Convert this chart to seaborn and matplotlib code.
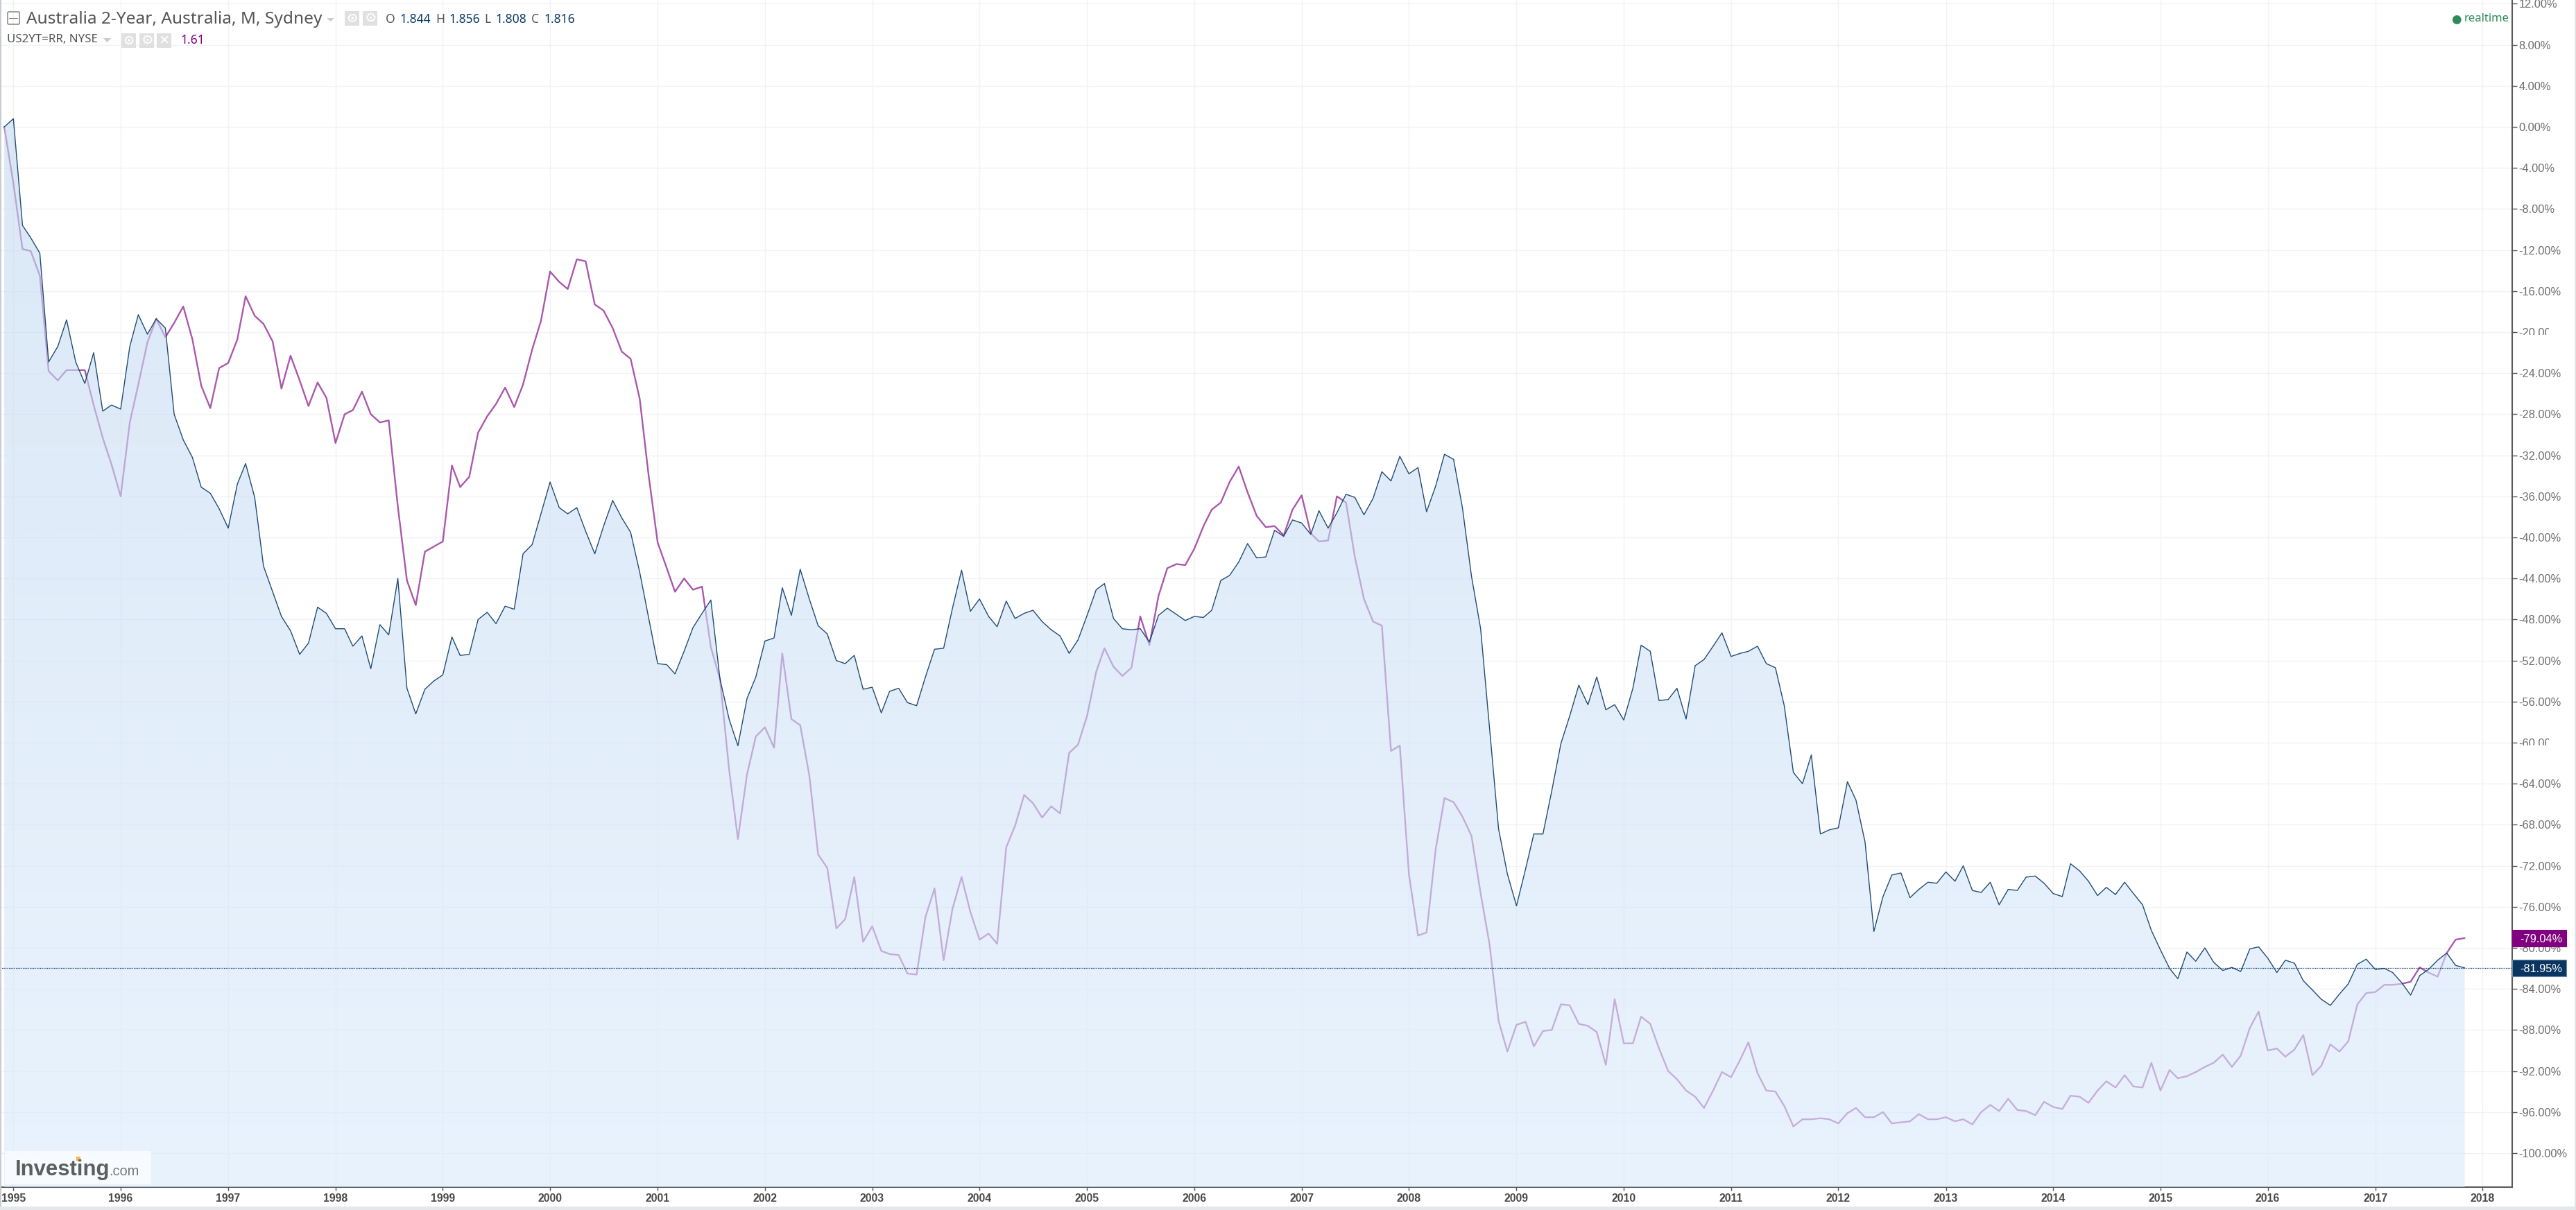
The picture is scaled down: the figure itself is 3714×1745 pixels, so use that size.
import numpy as np
import pandas as pd
import seaborn as sns
import matplotlib
matplotlib.use('Agg')
import matplotlib.dates as mdates
from matplotlib import pyplot as plt
from matplotlib.patches import Rectangle, FancyBboxPatch, Polygon
from matplotlib.transforms import Bbox

# % change since Dec 1994, monthly
au_2y = [
    0.0, 0.8, -9.6, -10.8, -12.3, -22.9, -21.4, -18.8, -22.9, -25.0,
    -22.0, -27.7, -27.1, -27.5, -21.4, -18.3, -20.2, -18.7, -19.6, -28.0,
    -30.5, -32.2, -35.1, -35.7, -37.2, -39.1, -34.8, -32.8, -36.1, -42.8,
    -45.3, -47.7, -49.1, -51.4, -50.3, -46.8, -47.4, -48.9, -48.9, -50.6,
    -49.6, -52.8, -48.5, -49.5, -44.0, -54.7, -57.2, -54.8, -54.0, -53.4,
    -49.7, -51.5, -51.4, -48.0, -47.3, -48.4, -46.7, -47.0, -41.6, -40.7,
    -37.7, -34.6, -37.1, -37.7, -37.1, -39.4, -41.6, -38.9, -36.4, -38.1,
    -39.5, -43.4, -47.8, -52.3, -52.4, -53.3, -51.1, -48.8, -47.4, -46.1,
    -53.8, -57.7, -60.3, -55.7, -53.6, -50.1, -49.8, -44.9, -47.6, -43.1,
    -46.0, -48.6, -49.4, -52.0, -52.3, -51.5, -54.8, -54.6, -57.1, -55.0,
    -54.7, -56.1, -56.4, -53.6, -50.9, -50.8, -46.9, -43.2, -47.2, -46.0,
    -47.7, -48.7, -46.2, -47.9, -47.4, -47.1, -48.2, -49.0, -49.6, -51.3,
    -50.0, -47.6, -45.1, -44.5, -47.9, -48.9, -49.0, -48.9, -50.2, -47.6,
    -46.9, -47.5, -48.1, -47.7, -47.8, -47.1, -44.2, -43.7, -42.4, -40.6,
    -42.0, -41.9, -39.3, -39.9, -38.3, -38.6, -39.7, -37.4, -39.1, -37.6,
    -35.8, -36.1, -37.8, -36.2, -33.6, -34.5, -32.1, -33.8, -33.2, -37.5,
    -35.0, -31.9, -32.4, -37.1, -43.8, -48.9, -58.5, -68.4, -72.8, -75.9,
    -72.3, -68.9, -68.9, -64.7, -60.1, -57.4, -54.4, -56.3, -53.6, -56.8,
    -56.3, -57.8, -54.7, -50.5, -51.1, -55.9, -55.8, -54.7, -57.7, -52.5,
    -51.9, -50.6, -49.3, -51.6, -51.3, -51.1, -50.6, -52.3, -52.7, -56.4,
    -62.9, -64.0, -61.2, -68.9, -68.5, -68.3, -63.8, -65.6, -69.7, -78.4,
    -75.0, -72.9, -72.7, -75.1, -74.3, -73.6, -73.7, -72.6, -73.5, -72.0,
    -74.4, -74.6, -73.6, -75.8, -74.3, -74.4, -73.1, -73.0, -73.7, -74.7,
    -75.0, -71.8, -72.5, -73.5, -74.9, -74.1, -74.8, -73.6, -74.7, -75.8,
    -78.3, -80.2, -82.0, -83.0, -80.4, -81.3, -80.0, -81.4, -82.2, -81.9,
    -82.3, -80.1, -79.9, -81.0, -82.4, -81.2, -81.5, -83.2, -84.1, -85.0,
    -85.6, -84.5, -83.5, -81.6, -81.1, -82.1, -82.0, -82.4, -83.4, -84.6,
    -82.7, -82.1, -81.2, -80.5, -81.7, -81.95,
]

us_2y = [
    0.0, -5.5, -11.9, -12.1, -14.5, -23.8, -24.7, -23.7, -23.7, -23.7,
    -27.1, -30.3, -32.9, -36.0, -28.8, -25.1, -21.0, -18.7, -20.5, -19.1,
    -17.5, -20.7, -25.2, -27.4, -23.5, -23.0, -20.7, -16.5, -18.4, -19.2,
    -20.9, -25.5, -22.3, -24.7, -27.2, -24.9, -26.4, -30.8, -28.0, -27.6,
    -25.8, -28.0, -28.8, -28.6, -37.0, -44.2, -46.6, -41.4, -40.9, -40.4,
    -33.0, -35.1, -34.1, -29.8, -28.2, -27.0, -25.4, -27.3, -25.1, -21.7,
    -18.9, -14.1, -15.1, -15.8, -12.9, -13.1, -17.3, -17.9, -19.6, -21.9,
    -22.6, -26.5, -33.9, -40.5, -43.0, -45.3, -44.0, -45.1, -44.8, -50.7,
    -53.8, -62.6, -69.4, -63.1, -59.4, -58.5, -60.5, -51.3, -57.7, -58.3,
    -63.2, -70.9, -72.2, -78.1, -77.2, -73.1, -79.4, -77.9, -80.3, -80.6,
    -80.7, -82.5, -82.6, -77.0, -74.2, -81.2, -76.2, -73.1, -76.5, -79.2,
    -78.6, -79.6, -70.2, -68.1, -65.1, -65.9, -67.3, -66.2, -66.9, -61.0,
    -60.2, -57.4, -53.1, -50.8, -52.6, -53.5, -52.7, -47.7, -50.5, -45.7,
    -43.0, -42.6, -42.7, -41.1, -38.9, -37.3, -36.6, -34.6, -33.1, -35.6,
    -37.9, -39.0, -38.9, -39.8, -37.3, -35.9, -39.6, -40.4, -40.3, -36.0,
    -36.6, -41.9, -46.0, -48.2, -48.6, -60.8, -60.3, -72.8, -78.8, -78.5,
    -70.4, -65.4, -65.8, -67.2, -69.1, -74.7, -79.6, -87.1, -90.1, -87.5,
    -87.2, -89.6, -88.1, -88.0, -85.5, -85.6, -87.4, -87.6, -88.2, -91.4,
    -85.0, -89.3, -89.3, -86.7, -87.4, -89.8, -92.0, -92.8, -93.9, -94.5,
    -95.6, -93.9, -92.1, -92.6, -90.9, -89.2, -92.2, -93.9, -94.0, -95.4,
    -97.4, -96.7, -96.7, -96.6, -96.7, -97.1, -96.1, -95.6, -96.5, -96.5,
    -96.0, -97.1, -97.0, -96.9, -96.2, -96.7, -96.7, -96.5, -96.9, -96.7,
    -97.2, -96.0, -95.3, -95.9, -94.7, -95.8, -95.9, -96.3, -95.0, -95.5,
    -95.7, -94.4, -94.5, -95.1, -93.9, -93.0, -93.6, -92.4, -93.5, -93.6,
    -91.2, -93.9, -91.9, -92.7, -92.5, -92.1, -91.6, -91.2, -90.4, -91.6,
    -90.5, -87.8, -86.2, -90.0, -89.8, -90.6, -89.9, -88.5, -92.4, -91.5,
    -89.4, -90.1, -89.1, -85.5, -84.4, -84.3, -83.6, -83.6, -83.5, -83.3,
    -81.9, -82.4, -82.8, -80.5, -79.2, -79.04,
]

y_ticks = list(range(12, -104, -4))
year_ticks = list(range(1995, 2019))

W, H = 3714, 1745
AX_R, AX_B = 3622, 1712
PX_PER_PCT = 14.8
PX_PER_YEAR = 154.78


def fx(px):
    return px / W


def fy(py):
    return 1 - py / H


sns.set_style('white')
plt.rcParams['font.family'] = ['Liberation Sans', 'DejaVu Sans']

dates = pd.date_range('1994-12-01', periods=len(au_2y), freq='MS')
df = pd.DataFrame({'date': dates, 'au': au_2y, 'us': us_2y})

fig = plt.figure(figsize=(W / 100, H / 100), dpi=100, facecolor='white')
ax = fig.add_axes([0, fy(AX_B), fx(AX_R), 1 - fy(AX_B)])
ax.set_axisbelow(True)

# purple goes under the fill, that is why it looks pale where the area covers it
sns.lineplot(data=df, x='date', y='us', ax=ax, color='#800080', alpha=0.66, linewidth=1.7, zorder=2)

y_top = 183 / PX_PER_PCT
y_bot = (183 - AX_B) / PX_PER_PCT
x0 = mdates.date2num(pd.Timestamp('1995-01-01'))
x_left = x0 - 19.3 / PX_PER_YEAR * 365.25
x_right = x0 + (AX_R - 19.3) / PX_PER_YEAR * 365.25

# vertical gradient clipped to the area under the navy line
band = ax.fill_between(df['date'], df['au'], y_bot, facecolor='none', edgecolor='none')
top_c = np.array([195, 217, 240]) / 255
bot_c = np.array([218, 235, 253]) / 255
t = np.linspace(0, 1, 256)[:, None]
grad = np.zeros((256, 1, 4))
grad[:, 0, :3] = top_c * (1 - t) + bot_c * t
grad[:, 0, 3] = 0.6
im = ax.imshow(grad, extent=[mdates.date2num(dates[0]), mdates.date2num(dates[-1]), y_bot, max(au_2y)],
               aspect='auto', zorder=3, interpolation='bilinear')
im.set_clip_path(band.get_paths()[0], transform=ax.transData)

sns.lineplot(data=df, x='date', y='au', ax=ax, color='#0a3a66', linewidth=1.0, alpha=0.9, zorder=4)

ax.axhline(au_2y[-1], color='#0a3a66', linewidth=0.9, linestyle=(0, (1, 1)), zorder=5)

ax.set_xlim(x_left, x_right)
ax.set_ylim(y_bot, y_top)
ax.set_xlabel('')
ax.set_ylabel('')

ax.set_xticks([mdates.date2num(pd.Timestamp(f'{y}-01-01')) for y in year_ticks], [str(y) for y in year_ticks])
ax.set_yticks(y_ticks, [f'{v:.2f}%' for v in y_ticks])
ax.grid(True, color='#f1f2f4', linewidth=1.0)

ax.tick_params(axis='y', left=False, right=True, labelleft=False, labelright=True, length=5, width=1,
               color='#555555', labelcolor='#6e6e6e', labelsize=11.8, pad=2)
ax.tick_params(axis='x', bottom=True, length=3.6, width=1, color='#555555', labelcolor='#484848',
               labelsize=11.4, pad=3)
for lab in ax.get_xticklabels():
    lab.set_fontweight('bold')

for side in ['top', 'left']:
    ax.spines[side].set_visible(False)
for side in ['right', 'bottom']:
    ax.spines[side].set_color('#5a5a5a')
    ax.spines[side].set_linewidth(1.5)

# two axis labels are cut off in the original
for tick, val in zip(ax.yaxis.get_major_ticks(), y_ticks):
    if val in (-20, -60):
        py = (183 - val * PX_PER_PCT)
        tick.label2.set_clip_on(True)
        tick.label2.set_clip_box(Bbox([[AX_R, H - py - 4], [3675, H - py + 20]]))

# last value boxes on the axis
for val, face, edge in [(us_2y[-1], '#800080', '#800080'), (au_2y[-1], '#0a3560', '#6f8fae')]:
    ax.add_patch(Rectangle((1, val - 12 / PX_PER_PCT), 78 / AX_R, 24 / PX_PER_PCT,
                           transform=ax.get_yaxis_transform(), facecolor=face, edgecolor=edge,
                           linewidth=0.8, clip_on=False, zorder=10))
    ax.text(1 + 11 / AX_R, val, f'{val:.2f}%', transform=ax.get_yaxis_transform(), color='white',
            fontsize=11.8, ha='left', va='center_baseline', clip_on=False, zorder=11)

# page edges
fig.add_artist(Rectangle((0, 0), 1, fy(1740), transform=fig.transFigure, facecolor='#e4e7ec', edgecolor='none'))
fig.add_artist(Rectangle((fx(3712), 0), 1 - fx(3712), 1, transform=fig.transFigure, facecolor='#e0e3e8', edgecolor='none'))
fig.add_artist(Rectangle((0, fy(1740)), fx(1.5), 1 - fy(1740), transform=fig.transFigure, facecolor='#c9cbd2', edgecolor='none'))

# header
TITLE_FONT = ['Noto Sans', 'DejaVu Sans']
fig.add_artist(FancyBboxPatch((fx(11), fy(35)), fx(17), 18 / H, boxstyle='round,pad=0,rounding_size=0.0006',
                              transform=fig.transFigure, facecolor='none', edgecolor='#777777', linewidth=1.0))
fig.add_artist(Rectangle((fx(13), fy(26.5)), fx(13), 1 / H, transform=fig.transFigure, facecolor='#777777', edgecolor='none'))
fig.text(fx(38), fy(28), 'Australia 2-Year, Australia, M, Sydney', fontsize=17.6, color='#555555',
         family=TITLE_FONT, va='center')
fig.text(fx(10), fy(57), 'US2YT=RR, NYSE', fontsize=12.2, color='#555555', family=TITLE_FONT, va='center')

for pts in [[(471, 26), (482, 26), (476.5, 31)], [(149, 55), (160, 55), (154.5, 61)]]:
    fig.add_artist(Polygon([(fx(a), fy(b)) for a, b in pts], closed=True, transform=fig.transFigure,
                           facecolor='#cccccc', edgecolor='none'))

for x_b, y_b, glyph in [(497, 37, '\u2299'), (523, 37, '\u2699'), (175, 69, '\u2299'), (201, 69, '\u2699'), (226, 69, '\u2715')]:
    fig.add_artist(Rectangle((fx(x_b), fy(y_b)), fx(21), 21 / H, transform=fig.transFigure,
                             facecolor='#e0e0e0', edgecolor='none'))
    fig.text(fx(x_b + 10.5), fy(y_b - 10.5), glyph, color='white', fontsize=14, fontweight='bold',
             family='DejaVu Sans', ha='center', va='center')

for x_t, txt, col in [(556, 'O', '#555555'), (576, '1.844', '#0a3a66'), (628, 'H', '#555555'), (647, '1.856', '#0a3a66'),
                      (698, 'L', '#555555'), (714, '1.808', '#0a3a66'), (766, 'C', '#555555'), (784, '1.816', '#0a3a66')]:
    fig.text(fx(x_t), fy(28), txt, color=col, fontsize=12.6, family=TITLE_FONT, va='center')
fig.text(fx(260), fy(58), '1.61', color='#800080', fontsize=12.6, family=TITLE_FONT, va='center')

fig.text(fx(3541), fy(28), '\u25cf', color='#2e8b57', fontsize=12, family='DejaVu Sans', ha='center', va='center')
fig.text(fx(3553), fy(27), 'realtime', color='#2e8b57', fontsize=12, family=TITLE_FONT, va='center')

# Investing.com logo
fig.add_artist(FancyBboxPatch((fx(7), fy(1708)), fx(211), 48 / H, boxstyle='round,pad=0,rounding_size=0.001',
                              transform=fig.transFigure, facecolor='white', alpha=0.7, edgecolor='none'))
fig.text(fx(22), fy(1695), 'Investing', color='#5e5e5e', fontsize=22.4, fontweight='bold', va='baseline')
fig.text(fx(157), fy(1695), '.com', color='#777777', fontsize=14.4, va='baseline')
fig.add_artist(Rectangle((fx(110), fy(1674)), fx(6), 6 / H, transform=fig.transFigure, facecolor='#f7b74a', edgecolor='none'))

fig.savefig('out.png', dpi=100)
